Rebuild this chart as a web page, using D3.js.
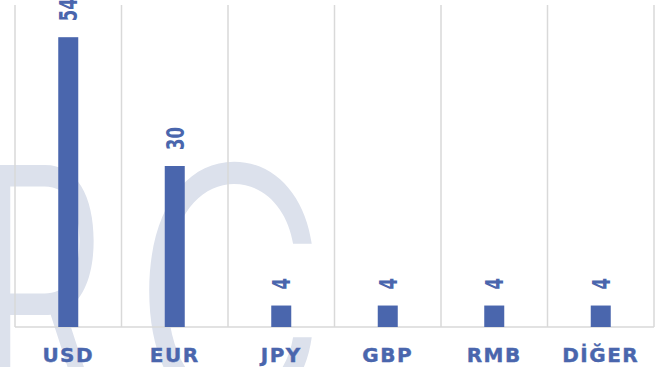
<!DOCTYPE html>
<html>
<head>
<meta charset="utf-8">
<script src="https://cdn.jsdelivr.net/npm/d3@7"></script>
<style>
  body { margin: 0; background: #fff; }
  svg { display: block; }
</style>
</head>
<body>
<svg id="chart" width="663" height="367"></svg>
<script>
var width = 663, height = 367;
var barColor = '#4a66ad', gridColor = '#d9d9d9';

var currencies = ['USD', 'EUR', 'JPY', 'GBP', 'RMB', 'DİĞER'];
var shares = [54, 30, 4, 4, 4, 4];

var svg = d3.select('#chart');

// faint watermark behind the chart (two letters placed separately)
var mark = svg.append('g')
    .style('font-family', 'Inter, "Open Sans", sans-serif')
    .style('font-weight', 300)
    .style('font-size', '345px')
    .style('fill', '#dce1ec');
mark.append('text')
    .attr('transform', 'translate(-24,416) scale(0.6,1)')
    .text('R');
mark.append('text')
    .attr('transform', 'translate(132,416) scale(0.78,1)')
    .text('C');

var x = d3.scaleBand()
    .domain(currencies)
    .range([15, 654])
    .padding(0);

var y = d3.scaleLinear()
    .domain([0, 60])
    .range([327, 5]);

var data = currencies.map(function (c, i) {
    return {name: c, value: shares[i]};
});

// vertical separators between categories
var edges = currencies.map(function (c) { return x(c); }).concat([x.range()[1]]);
svg.append('g')
    .selectAll('line')
    .data(edges)
    .enter()
    .append('line')
    .attr('x1', function (d) { return d; })
    .attr('x2', function (d) { return d; })
    .attr('y1', y(60))
    .attr('y2', y(0))
    .style('stroke', gridColor)
    .style('stroke-width', 1.5);

svg.append('line')
    .attr('x1', x.range()[0])
    .attr('x2', x.range()[1])
    .attr('y1', y(0))
    .attr('y2', y(0))
    .style('stroke', gridColor)
    .style('stroke-width', 1.5);

var barW = 20;
svg.append('g')
    .selectAll('rect')
    .data(data)
    .enter()
    .append('rect')
    .attr('x', function (d) { return x(d.name) + x.bandwidth() / 2 - barW / 2; })
    .attr('y', function (d) { return y(d.value); })
    .attr('width', barW)
    .attr('height', function (d) { return y(0) - y(d.value); })
    .style('fill', barColor);

// rotated value labels
svg.append('g')
    .selectAll('text')
    .data(data)
    .enter()
    .append('text')
    .attr('transform', function (d) {
        var cx = x(d.name) + x.bandwidth() / 2 + 9;
        return 'translate(' + cx + ',' + (y(d.value) - 16) + ') scale(1.5,1) rotate(-90)';
    })
    .style('font-family', '"DejaVu Sans", sans-serif')
    .style('font-weight', 'bold')
    .style('font-size', '16.5px')
    .style('fill', barColor)
    .text(function (d) { return d.value; });

// category labels
svg.append('g')
    .selectAll('text')
    .data(currencies)
    .enter()
    .append('text')
    .attr('x', function (d) { return x(d) + x.bandwidth() / 2; })
    .attr('y', 362)
    .attr('text-anchor', 'middle')
    .style('font-family', '"DejaVu Sans", sans-serif')
    .style('font-weight', 'bold')
    .style('font-size', '20px')
    .style('letter-spacing', '1.5px')
    .style('stroke', barColor)
    .style('stroke-width', 0.4)
    .style('fill', barColor)
    .text(function (d) { return d; });
</script>
</body>
</html>
